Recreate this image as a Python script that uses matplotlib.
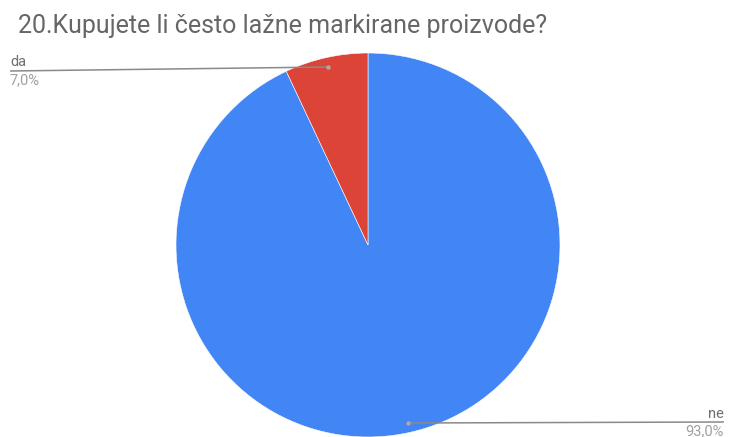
import numpy as np
import matplotlib.pyplot as plt

plt.rcParams['font.family'] = ['Roboto', 'DejaVu Sans']

title = '20.Kupujete li često lažne markirane proizvode?'
labels = ['ne', 'da']
values = [93.0, 7.0]
colors = ['#4285F4', '#DB4437']

W, H = 730, 437
fig = plt.figure(figsize=(W / 100, H / 100), dpi=100)
ax = fig.add_axes([0, 0, 1, 1])

cx, cy, r = 368, H - 245, 192
ax.pie(values, colors=colors, startangle=90, counterclock=False,
       center=(cx, cy), radius=r, frame=True,
       wedgeprops=dict(edgecolor='white', linewidth=0.4))
ax.set_xlim(0, W)
ax.set_ylim(0, H)
ax.set_aspect('equal')
ax.axis('off')

# mid angles of the slices -> leader dots
tot = sum(values)
start = 90.0
mids = []
for v in values:
    span = 360.0 * v / tot
    mids.append(np.deg2rad(start - span / 2))
    start -= span

# (line end x, line y in px, text alignment)
layout = {'ne': (724, 422, 'right'), 'da': (10, 71, 'left')}
for lab, v, a in zip(labels, values, mids):
    dx = cx + 0.95 * r * np.cos(a)
    dy = cy + 0.95 * r * np.sin(a)
    ex, ey, ha = layout[lab]
    ey = H - ey
    ax.plot([dx, ex], [dy, ey], color='#8a8a8a', lw=1.1, solid_capstyle='butt')
    ax.plot(dx, dy, 'o', ms=3.2, color='#b0a8a0', mec='none')
    ax.text(ex, ey + 4.5, lab, ha=ha, va='baseline', fontsize=10.5, color='#6f6f6f')
    ax.text(ex, ey - 13.5, f'{v:.1f}%'.replace('.', ','), ha=ha, va='baseline',
            fontsize=10.5, color='#a0a0a0')

fig.text(18 / W, 1 - 33.5 / H, title, ha='left', va='baseline',
         fontsize=18, color='#666666')

fig.savefig('out.png', dpi=100)
